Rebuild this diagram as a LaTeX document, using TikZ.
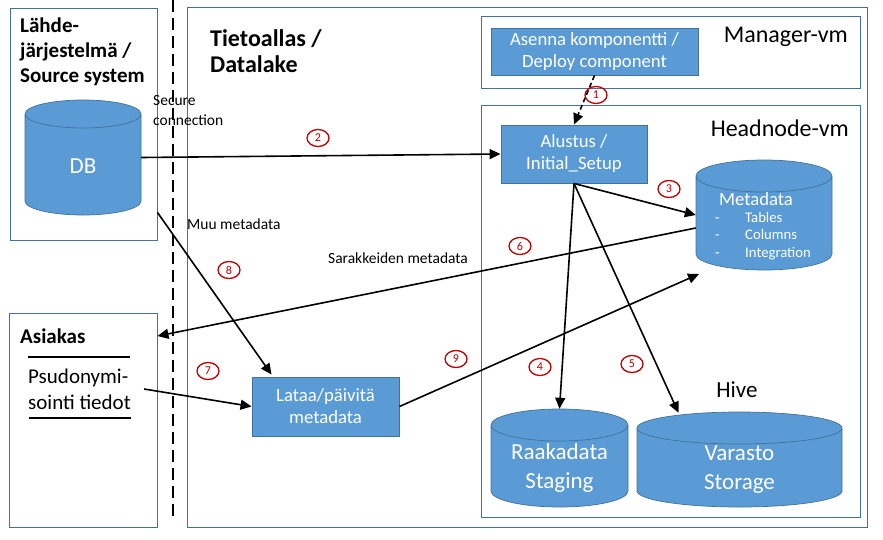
\documentclass[tikz,border=0pt]{standalone}
\usepackage{fontspec}
\setmainfont{Carlito}
\usetikzlibrary{arrows.meta,positioning,calc,shapes.geometric}
\definecolor{boxfill}{RGB}{91,155,213}
\definecolor{boxedge}{RGB}{65,113,156}
\definecolor{numred}{RGB}{192,0,0}

% data store: name, centre, half width, half height, cap radius, text
\newcommand{\datastore}[6]{%
  \path[storeline] ($#2+(-#3,#5-#4)$) -- ($#2+(-#3,#4-#5)$)
    arc[start angle=180, end angle=360, x radius=#3pt, y radius=#5pt]
    -- ($#2+(#3,#5-#4)$)
    arc[start angle=0, end angle=180, x radius=#3pt, y radius=#5pt] -- cycle
    ($#2+(-#3,#5-#4)$)
    arc[start angle=180, end angle=360, x radius=#3pt, y radius=#5pt];
  \node[inner sep=0pt, minimum width={2*#3}, minimum height={2*#4}] (#1) at #2 {};
  \node[storetext] (#1-text) at ($#2+(0,0.65*#5)$) {#6};
}

\begin{document}
\begin{tikzpicture}[x=1pt, y=-1pt,
    >={Triangle[length=11pt,width=10pt]},
    area/.style={draw=boxedge, line width=0.9pt, inner sep=0pt},
    comp/.style={draw=boxedge, line width=0.9pt, fill=boxfill, text=white,
       align=center, inner sep=0pt, font=\fontsize{18.7}{22}\selectfont},
    storeline/.style={draw=boxedge, fill=boxfill, line width=0.7pt},
    storetext/.style={text=white, align=center, inner sep=0pt,
       font=\fontsize{23}{29}\selectfont},
    numcirc/.style={ellipse, draw=numred, line width=1.3pt, text=numred,
       font=\fontsize{12}{12}\selectfont, minimum width=22pt, minimum height=17pt, inner sep=0pt},
    heading/.style={font=\bfseries\fontsize{21}{25}\selectfont, align=left, anchor=west, inner sep=0pt},
    vmlbl/.style={font=\fontsize{24}{24}\selectfont, anchor=east, inner sep=0pt},
    lbl/.style={font=\fontsize{15.5}{20}\selectfont, align=left, anchor=west, inner sep=0pt},
    flow/.style={->, line width=1.6pt}
  ]
    \useasboundingbox (0,0) rectangle (883,539);

    % Areas
    \node[area, minimum width=147pt, minimum height=232pt] (SrcBox)  at (83.5,124) {};
    \node[area, minimum width=680pt, minimum height=520pt] (LakeBox) at (527,267) {};
    \node[area, minimum width=379pt, minimum height=72pt]  (MgrBox)  at (670.5,52) {};
    \node[area, minimum width=379pt, minimum height=412pt] (HeadBox) at (670.5,311) {};
    \node[area, minimum width=148pt, minimum height=214pt] (CustBox) at (83,420) {};

    % Network border
    \draw[line width=2.6pt, dash pattern=on 12pt off 6pt] (173,0) -- (173,517);

    % Area titles
    \node[heading] (SrcTitle) at (20,52) {Lähde-\\järjestelmä /\\Source system};
    \node[heading, font=\bfseries\fontsize{24}{26}\selectfont] (LakeTitle) at (210,51) {Tietoallas /\\Datalake};
    \node[vmlbl] (MgrLbl)  at (848,37)  {Manager-vm};
    \node[vmlbl] (HeadLbl) at (849,128) {Headnode-vm};
    \node[vmlbl, font=\fontsize{23}{23}\selectfont, anchor=center] (HiveLbl) at (737,390) {Hive};

    % Components
    \node[comp, minimum width=207pt, minimum height=47pt] (Asenna)  at (594.5,51.5) {Asenna komponentti /\\Deploy component};
    \node[comp, minimum width=146pt, minimum height=58pt] (Alustus) at (574,154)    {Alustus /\\Initial\_Setup};
    \node[comp, minimum width=147pt, minimum height=59pt] (Lataa)   at (325.5,406.5) {Lataa/päivitä\\metadata};

    % Data stores
    \datastore{DB}{(83,157.5)}{58}{57.5}{14}{DB}
    \datastore{Metadata}{(764,215)}{68}{55}{16}{}
    \datastore{Raaka}{(559.5,458)}{68.5}{49}{16}{Raakadata\\Staging}
    \datastore{Varasto}{(739.5,459.5)}{102.5}{47.5}{16}{Varasto\\Storage}
    \node[text=white, font=\fontsize{18.7}{18.7}\selectfont, inner sep=0pt] (MetaTitle) at (756,199) {Metadata};
    \node[lbl, text=white, font=\fontsize{14.7}{17.5}\selectfont] (MetaList) at (715,236)
       {-\hspace{25.5pt}Tables\\-\hspace{25.5pt}Columns\\-\hspace{25.5pt}Integration};

    % Customer
    \node[heading] (CustTitle) at (20,336) {Asiakas};
    \draw[line width=2.6pt] (28,357) -- (130,357);
    \node[lbl, font=\fontsize{21}{26}\selectfont] (Psudo) at (28,389) {Psudonymi-\\sointi tiedot};
    \draw[line width=2.6pt] (29,418) -- (131,418);

    % Flows
    \draw[flow, dash pattern=on 5pt off 3pt] (Asenna.south) -- (Alustus.north);
    \draw[flow] (DB.east) -- (Alustus.west);
    \draw[flow] (Alustus.south) -- (Metadata.west);
    \draw[flow] (Alustus.south) -- (Raaka.north);
    \draw[flow] (Alustus.south) -- ($(Varasto.north)+(-61,1)$);
    \draw[flow] ([yshift=-13pt]Metadata.west) -- (CustBox.east |- CustTitle);
    \draw[flow] ([xshift=13pt]Psudo.east) -- (Lataa.west);
    \draw[flow] ($(SrcBox.south east)+(0,-28)$) -- ($(Lataa.north west)+(20,-2)$);
    \draw[flow] (Lataa.east) -- ($(Metadata.center)+(-65,59)$);

    % Flow labels
    \node[lbl] (SecureLbl) at (153,111) {Secure\\connection};
    \node[lbl] (MuuLbl) at (187,224) {Muu metadata};
    \node[lbl, anchor=center] (SarLbl) at (398,258) {Sarakkeiden metadata};

    % Step numbers
    \node[numcirc] (n1) at (596,95)  {1};
    \node[numcirc] (n2) at (318,138) {2};
    \node[numcirc] (n3) at (669,189) {3};
    \node[numcirc] (n4) at (540,367) {4};
    \node[numcirc] (n5) at (632,364) {5};
    \node[numcirc] (n6) at (520,246) {6};
    \node[numcirc] (n7) at (208,371) {7};
    \node[numcirc] (n8) at (229,270) {8};
    \node[numcirc] (n9) at (456,359) {9};
\end{tikzpicture}
\end{document}
